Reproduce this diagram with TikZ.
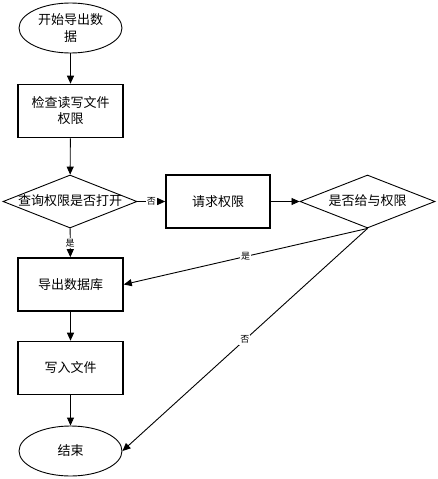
\documentclass[tikz,border=0pt]{standalone}
\usepackage{fontspec}
\setmainfont{Noto Sans CJK SC}
\usetikzlibrary{shapes.geometric,arrows.meta}

\begin{document}
\begin{tikzpicture}[x=1pt,y=-1pt,line width=0.9pt,
  term/.style={draw,ellipse,minimum width=103pt,minimum height=50pt,inner sep=0pt,align=center,font=\fontsize{13}{17}\selectfont},
  proc/.style={draw,line width=1.6pt,minimum width=105pt,minimum height=53pt,inner sep=0pt,align=center,font=\fontsize{13}{16}\selectfont},
  test/.style={draw,diamond,shape aspect=2.53,minimum width=134pt,minimum height=53pt,inner sep=0pt,text height=9pt,text depth=1pt,font=\fontsize{13}{16}\selectfont},
  flow/.style={-{Triangle[length=8pt,width=7pt]}},
  tag/.style={fill=white,inner sep=1pt,font=\fontsize{9}{9}\selectfont}]
  \useasboundingbox (0,0) rectangle (437,479);
  \node[term] (start) at (70.5,28) {开始导出数\\据};
  \node[proc] (check) at (70.5,111) {检查读写文件\\权限};
  \node[test] (ask) at (70,201.5) {查询权限是否打开};
  \node[proc,minimum width=104pt] (req) at (218,201.5) {请求权限};
  \node[test,minimum width=135pt] (grant) at (367.5,201.5) {是否给与权限};
  \node[proc] (dump) at (70.5,284.5) {导出数据库};
  \node[proc] (write) at (70.5,368) {写入文件};
  \node[term] (stop) at (70.5,451) {结束};
  \draw[flow] (start) -- (check);
  \draw[flow] (check) -- (ask);
  \draw[flow] (ask) -- node[tag] {是} (dump);
  \draw[flow] (ask) -- node[tag] {否} (req);
  \draw[flow] (req) -- (grant);
  \draw[flow] (grant.south) -- node[tag] {是} (dump.east);
  \draw[flow] (grant.south) -- node[tag] {否} (stop.east);
  \draw[flow] (dump) -- (write);
  \draw[flow] (write) -- (stop);
\end{tikzpicture}
\end{document}
